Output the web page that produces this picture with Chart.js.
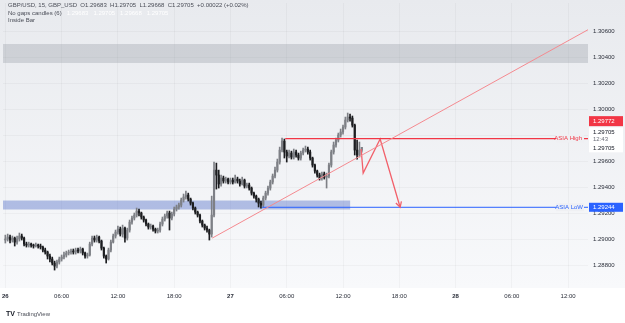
<!DOCTYPE html>
<html><head><meta charset="utf-8">
<script src="https://cdn.jsdelivr.net/npm/chart.js@4/dist/chart.umd.min.js"></script>
<style>html,body{margin:0;padding:0;background:#fff;}#wrap{width:625px;height:323px;position:relative}</style>
</head><body><div id="wrap"><canvas id="c" width="625" height="323"></canvas></div>
<script>
// ---- data (15-minute GBP/USD candles starting 26th 00:00) ----
const startHour = 0;          // 26 00:00
const candleHours = 0.25;     // 15 minutes
const open = [
1.28992,1.29000,1.29015,1.28992,1.29007,1.28976,1.29000,1.29023,1.29007,1.28961,
1.28953,1.28961,1.28953,1.28946,1.28953,1.28946,1.28938,1.28915,1.28900,1.28869,
1.28846,1.28815,1.28792,1.28823,1.28846,1.28861,1.28877,1.28892,1.28900,1.28907,
1.28900,1.28915,1.28907,1.28923,1.28892,1.28869,1.28877,1.28961,1.29007,1.28992,
1.29015,1.28984,1.28930,1.28869,1.28846,1.28915,1.28976,1.29023,1.29053,1.29076,
1.29038,1.29084,1.29007,1.29069,1.29130,1.29161,1.29184,1.29215,1.29200,1.29169,
1.29146,1.29115,1.29092,1.29100,1.29076,1.29061,1.29069,1.29115,1.29153,1.29177,
1.29200,1.29161,1.29192,1.29230,1.29246,1.29261,1.29300,1.29323,1.29338,1.29307,
1.29276,1.29238,1.29207,1.29184,1.29138,1.29107,1.29084,1.29069,1.29038,1.29184,
1.29530,1.29492,1.29423,1.29469,1.29446,1.29461,1.29438,1.29453,1.29438,1.29461,
1.29446,1.29423,1.29453,1.29407,1.29415,1.29392,1.29353,1.29330,1.29307,1.29276,
1.29261,1.29315,1.29353,1.29392,1.29438,1.29484,1.29530,1.29592,1.29684,1.29753,
1.29669,1.29638,1.29661,1.29630,1.29669,1.29646,1.29623,1.29661,1.29684,1.29692,
1.29669,1.29623,1.29569,1.29523,1.29492,1.29469,1.29500,1.29476,1.29484,1.29569,
1.29669,1.29723,1.29761,1.29800,1.29823,1.29861,1.29915,1.29938,1.29930,1.29876,
1.29684,1.29646,1.29683];
const high = [
1.29030,1.29038,1.29030,1.29023,1.29015,1.29023,1.29046,1.29038,1.29015,1.28976,
1.28976,1.28969,1.28961,1.28969,1.28961,1.28961,1.28946,1.28930,1.28907,1.28884,
1.28861,1.28830,1.28838,1.28861,1.28877,1.28900,1.28907,1.28915,1.28923,1.28923,
1.28930,1.28930,1.28938,1.28930,1.28900,1.28892,1.28976,1.29023,1.29023,1.29030,
1.29023,1.28992,1.28938,1.28877,1.28930,1.28992,1.29038,1.29069,1.29100,1.29092,
1.29107,1.29092,1.29084,1.29146,1.29177,1.29200,1.29238,1.29230,1.29207,1.29177,
1.29153,1.29123,1.29115,1.29107,1.29084,1.29084,1.29130,1.29169,1.29192,1.29215,
1.29215,1.29207,1.29246,1.29261,1.29276,1.29315,1.29346,1.29368,1.29353,1.29315,
1.29284,1.29246,1.29215,1.29192,1.29146,1.29115,1.29100,1.29076,1.29330,1.29592,
1.29584,1.29530,1.29492,1.29484,1.29476,1.29469,1.29469,1.29469,1.29492,1.29476,
1.29461,1.29476,1.29461,1.29430,1.29430,1.29400,1.29361,1.29338,1.29315,1.29292,
1.29330,1.29368,1.29407,1.29453,1.29500,1.29553,1.29615,1.29707,1.29776,1.29769,
1.29684,1.29684,1.29676,1.29692,1.29684,1.29661,1.29676,1.29700,1.29715,1.29707,
1.29684,1.29630,1.29576,1.29530,1.29507,1.29515,1.29515,1.29507,1.29584,1.29684,
1.29746,1.29776,1.29815,1.29846,1.29876,1.29938,1.29969,1.29961,1.29946,1.29884,
1.29761,1.29746,1.29705];
const low = [
1.28969,1.28984,1.28969,1.28976,1.28946,1.28961,1.28984,1.28992,1.28946,1.28938,
1.28938,1.28938,1.28930,1.28938,1.28930,1.28923,1.28900,1.28884,1.28846,1.28823,
1.28800,1.28761,1.28777,1.28807,1.28830,1.28846,1.28861,1.28877,1.28884,1.28884,
1.28884,1.28892,1.28892,1.28877,1.28853,1.28853,1.28869,1.28946,1.28976,1.28976,
1.28969,1.28915,1.28853,1.28815,1.28838,1.28900,1.28969,1.29007,1.29038,1.29023,
1.29015,1.28976,1.28992,1.29053,1.29115,1.29146,1.29169,1.29177,1.29153,1.29130,
1.29100,1.29076,1.29076,1.29061,1.29046,1.29046,1.29053,1.29100,1.29138,1.29161,
1.29069,1.29146,1.29177,1.29215,1.29230,1.29246,1.29284,1.29307,1.29292,1.29261,
1.29223,1.29192,1.29169,1.29123,1.29092,1.29069,1.29053,1.28992,1.29015,1.29169,
1.29384,1.29392,1.29407,1.29430,1.29430,1.29423,1.29423,1.29423,1.29430,1.29430,
1.29407,1.29415,1.29392,1.29392,1.29376,1.29338,1.29315,1.29284,1.29246,1.29238,
1.29246,1.29300,1.29338,1.29376,1.29423,1.29469,1.29515,1.29576,1.29669,1.29623,
1.29592,1.29623,1.29615,1.29615,1.29630,1.29607,1.29607,1.29646,1.29669,1.29653,
1.29607,1.29553,1.29507,1.29476,1.29453,1.29453,1.29461,1.29392,1.29469,1.29553,
1.29653,1.29707,1.29746,1.29784,1.29807,1.29846,1.29900,1.29907,1.29861,1.29646,
1.29615,1.29630,1.29668];
const close = [
1.29000,1.29015,1.28992,1.29007,1.28976,1.29000,1.29023,1.29007,1.28961,1.28953,
1.28961,1.28953,1.28946,1.28953,1.28946,1.28938,1.28915,1.28900,1.28869,1.28846,
1.28815,1.28792,1.28823,1.28846,1.28861,1.28877,1.28892,1.28900,1.28907,1.28900,
1.28915,1.28907,1.28923,1.28892,1.28869,1.28877,1.28961,1.29007,1.28992,1.29015,
1.28984,1.28930,1.28869,1.28846,1.28915,1.28976,1.29023,1.29053,1.29076,1.29038,
1.29084,1.29007,1.29069,1.29130,1.29161,1.29184,1.29215,1.29200,1.29169,1.29146,
1.29115,1.29092,1.29100,1.29076,1.29061,1.29069,1.29115,1.29153,1.29177,1.29200,
1.29161,1.29192,1.29230,1.29246,1.29261,1.29300,1.29323,1.29338,1.29307,1.29276,
1.29238,1.29207,1.29184,1.29138,1.29107,1.29084,1.29069,1.29038,1.29184,1.29530,
1.29492,1.29423,1.29469,1.29446,1.29461,1.29438,1.29453,1.29438,1.29461,1.29446,
1.29423,1.29453,1.29407,1.29415,1.29392,1.29353,1.29330,1.29307,1.29276,1.29261,
1.29315,1.29353,1.29392,1.29438,1.29484,1.29530,1.29592,1.29684,1.29753,1.29669,
1.29638,1.29661,1.29630,1.29669,1.29646,1.29623,1.29661,1.29684,1.29692,1.29669,
1.29623,1.29569,1.29523,1.29492,1.29469,1.29500,1.29476,1.29484,1.29569,1.29669,
1.29723,1.29761,1.29800,1.29823,1.29861,1.29915,1.29938,1.29930,1.29876,1.29684,
1.29646,1.29683,1.29705];

// axis ticks
const xTickHours = [0,6,12,18,24,30,36,42,48,54,60];
const xTickLabels = ['26','06:00','12:00','18:00','27','06:00','12:00','18:00','28','06:00','12:00'];
const yTickValues = [1.288,1.290,1.292,1.294,1.296,1.298,1.300,1.302,1.304,1.306];

// drawings (hours since 26 00:00, prices)
const trendHours = [22.06, 62.2];
const trendPrices = [1.29007, 1.30613];
const asiaHighHours = [29.84, 62.2];
const asiaHighPrice = 1.29772;
const asiaLowHours = [27.38, 62.2];
const asiaLowPrice = 1.29244;
const pathHours = [37.93, 38.15, 39.96, 42.09];
const pathPrices = [1.29692, 1.29507, 1.29769, 1.29244];
const zoneFromHours = [-1, -1];
const zoneToHours = [63, 36.76];
const zoneHighPrices = [1.30500, 1.29296];
const zoneLowPrices = [1.30354, 1.29227];
const countdown = '12:43';

// ---- derived ----
const times = close.map((_, i) => startHour + i * candleHours);
const UP = '#7e8086', DOWN = '#1c1d20';
const candleColors = close.map((c, i) => c >= open[i] ? UP : DOWN);
const FONT = 'Liberation Sans, Arial, sans-serif';

const bgPlugin = {
  id: 'bg',
  beforeDraw(chart) {
    const { ctx, chartArea: a } = chart;
    ctx.save();
    ctx.fillStyle = '#ffffff';
    ctx.fillRect(0, 0, chart.width, chart.height);
    const g = ctx.createLinearGradient(0, 0, 0, a.bottom);
    g.addColorStop(0, '#e8eaee');
    g.addColorStop(1, '#f8f9fb');
    ctx.fillStyle = g;
    ctx.fillRect(0, 0, chart.width, a.bottom);
    ctx.restore();
  }
};

const zonePlugin = {
  id: 'zones',
  beforeDatasetsDraw(chart) {
    const { ctx, chartArea: a, scales: { x, y } } = chart;
    const cols = ['rgba(150,154,163,0.34)', 'rgba(80,110,200,0.42)'];
    ctx.save();
    ctx.beginPath(); ctx.rect(a.left, a.top, a.right - a.left, a.bottom - a.top); ctx.clip();
    zoneFromHours.forEach((f, i) => {
      const x0 = x.getPixelForValue(f), x1 = x.getPixelForValue(zoneToHours[i]);
      const y0 = y.getPixelForValue(zoneHighPrices[i]), y1 = y.getPixelForValue(zoneLowPrices[i]);
      ctx.fillStyle = cols[i];
      ctx.fillRect(x0, y0, x1 - x0, y1 - y0);
    });
    ctx.restore();
  }
};

function box(ctx, x0, yc, w, h, fill) {
  ctx.fillStyle = fill;
  ctx.fillRect(x0, yc - h / 2, w, h);
}

const overlayPlugin = {
  id: 'overlay',
  afterDraw(chart) {
    const { ctx, chartArea: a, scales: { x, y } } = chart;
    ctx.save();
    // arrow head on projection path
    const n = pathHours.length;
    const ex = x.getPixelForValue(pathHours[n - 1]), ey = y.getPixelForValue(pathPrices[n - 1]);
    const sx = x.getPixelForValue(pathHours[n - 2]), sy = y.getPixelForValue(pathPrices[n - 2]);
    const ang = Math.atan2(ey - sy, ex - sx);
    ctx.strokeStyle = '#f2606a'; ctx.lineWidth = 1.3;
    ctx.beginPath();
    ctx.moveTo(ex - 6 * Math.cos(ang - 0.5), ey - 6 * Math.sin(ang - 0.5));
    ctx.lineTo(ex, ey);
    ctx.lineTo(ex - 6 * Math.cos(ang + 0.5), ey - 6 * Math.sin(ang + 0.5));
    ctx.stroke();

    // line labels
    ctx.font = '6px ' + FONT;
    ctx.textBaseline = 'middle';
    const hy = y.getPixelForValue(asiaHighPrice), ly = y.getPixelForValue(asiaLowPrice);
    ctx.fillStyle = '#eff0f3';
    ctx.fillRect(a.right - 32, hy - 4, 28, 8);
    ctx.fillRect(a.right - 32, ly - 4, 28, 8);
    ctx.textAlign = 'right';
    ctx.fillStyle = '#f23645'; ctx.fillText('ASIA High', a.right - 6, hy);
    ctx.fillStyle = '#2962ff'; ctx.fillText('ASIA LoW', a.right - 5, ly);

    // price axis labels
    ctx.textAlign = 'left';
    const ax = a.right + 1;
    const lastC = close[close.length - 1];
    const cy = y.getPixelForValue(lastC);
    box(ctx, ax, hy - 17.5, 34, 10, '#f23645');
    ctx.fillStyle = '#ffffff'; ctx.fillText(asiaHighPrice.toFixed(5), ax + 4, hy - 17.5);
    box(ctx, ax, cy - 7.5, 34, 25, '#ffffff');
    ctx.fillStyle = '#131722'; ctx.fillText(lastC.toFixed(5), ax + 4, cy - 15.5);
    ctx.fillStyle = '#6a6d78'; ctx.fillText(countdown, ax + 4, cy - 8);
    ctx.fillStyle = '#131722'; ctx.fillText(lastC.toFixed(5), ax + 4, cy + 0.5);
    box(ctx, ax, ly, 34, 9, '#2962ff');
    ctx.fillStyle = '#ffffff'; ctx.fillText(asiaLowPrice.toFixed(5), ax + 4, ly);

    // legend
    const L = close.length - 1;
    const chg = close[L] - open[L];
    ctx.fillStyle = '#4a4d57';
    ctx.font = '6px ' + FONT;
    let t = 'GBP/USD, 15, GBP_USD  O' + open[L].toFixed(5) + '  H' + high[L].toFixed(5) + '  L' + low[L].toFixed(5) + '  C' + close[L].toFixed(5) + '  +' + chg.toFixed(5) + ' (+' + (chg / open[L] * 100).toFixed(2) + '%)';
    ctx.fillText(t, 8, 5.5);
    const lab = 'No gaps candles (6)';
    ctx.fillText(lab, 8, 13);
    ctx.fillStyle = '#ffffff';
    ctx.fillText(open[L].toFixed(5) + '   ' + high[L].toFixed(5) + '   ' + low[L].toFixed(5) + '   ' + close[L].toFixed(5), 8 + ctx.measureText(lab).width + 5, 13);
    ctx.fillStyle = '#4a4d57';
    ctx.fillText('Inside Bar', 8, 20.5);

    // TradingView logo
    ctx.fillStyle = '#131722';
    ctx.font = 'bold 7px ' + FONT;
    ctx.fillText('TV', 6, 314);
    ctx.font = '6px ' + FONT;
    ctx.fillStyle = '#4a4d57';
    ctx.fillText('TradingView', 17, 314);
    ctx.restore();
  }
};

const chart = new Chart(document.getElementById('c'), {
  type: 'bar',
  data: {
    datasets: [
      { type: 'line', data: trendHours.map((h, i) => ({ x: h, y: trendPrices[i] })), borderColor: '#f58a90', borderWidth: 1, pointRadius: 0, order: 0 },
      { type: 'line', data: asiaHighHours.map(h => ({ x: h, y: asiaHighPrice })), borderColor: '#f23645', borderWidth: 1.4, pointRadius: 0, order: 0 },
      { type: 'line', data: asiaLowHours.map(h => ({ x: h, y: asiaLowPrice })), borderColor: '#2962ff', borderWidth: 1, pointRadius: 0, order: 0 },
      { type: 'line', data: pathHours.map((h, i) => ({ x: h, y: pathPrices[i] })), borderColor: '#f2606a', borderWidth: 1.3, pointRadius: 0, order: 0 },
      { label: 'wick', data: times.map((t, i) => ({ x: t, y: [low[i], high[i]] })), backgroundColor: candleColors, barThickness: 1, grouped: false, order: 2 },
      { label: 'body', data: times.map((t, i) => ({ x: t, y: [open[i], close[i]] })), backgroundColor: candleColors, barThickness: 1.5, minBarLength: 1, grouped: false, order: 1 }
    ]
  },
  options: {
    responsive: false, animation: false, devicePixelRatio: 1,
    layout: { padding: { left: 3, top: 3, right: 0, bottom: 18 } },
    plugins: { legend: { display: false }, tooltip: { enabled: false } },
    scales: {
      x: {
        type: 'linear', min: -0.25, max: 62.12, offset: false,
        afterBuildTicks: s => { s.ticks = xTickHours.map(v => ({ value: v })); },
        afterFit: s => { s.height = 17; s.paddingLeft = 0; s.paddingRight = 0; },
        ticks: {
          autoSkip: false, maxRotation: 0, padding: 5, color: '#2a2e39',
          font: ctx => ({ family: FONT, size: 6, weight: (ctx.tick && ctx.tick.value % 24 === 0) ? 'bold' : 'normal' }),
          callback: (v, i) => xTickLabels[i]
        },
        grid: { display: true, offset: false, color: 'rgba(0,0,0,0.03)', drawTicks: false },
        border: { display: false }
      },
      y: {
        position: 'right', min: 1.286231, max: 1.308154,
        afterBuildTicks: s => { s.ticks = yTickValues.map(v => ({ value: v })); },
        afterFit: s => { s.width = 37; s.paddingTop = 0; s.paddingBottom = 0; },
        ticks: { padding: 5, color: '#2a2e39', font: { family: FONT, size: 6 }, callback: v => Number(v).toFixed(5) },
        grid: { display: true, color: 'rgba(0,0,0,0.03)', drawTicks: false },
        border: { display: false }
      }
    }
  },
  plugins: [bgPlugin, zonePlugin, overlayPlugin]
});
</script>
</body></html>
